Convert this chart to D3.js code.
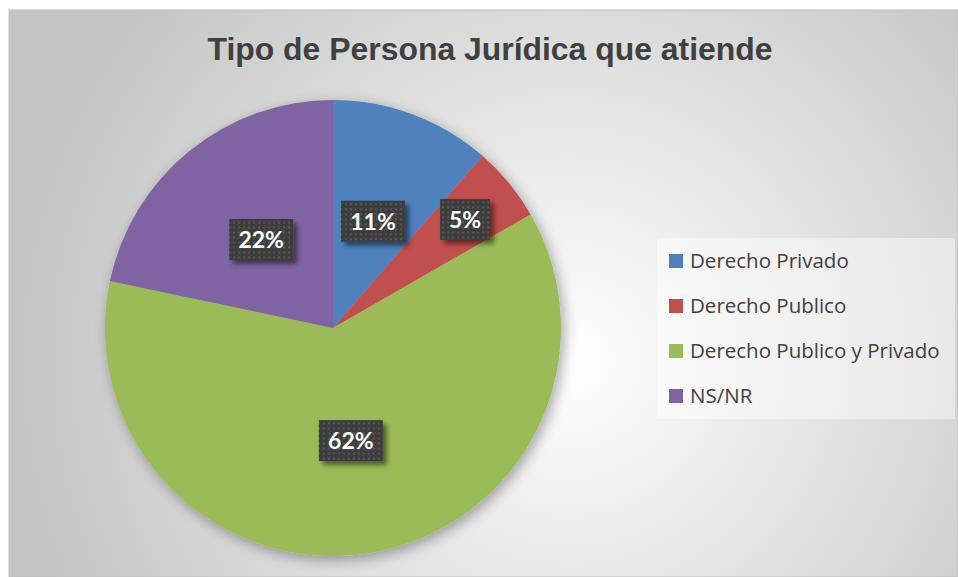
<!DOCTYPE html>
<html><head><meta charset="utf-8">
<script src="https://cdn.jsdelivr.net/npm/d3@7"></script>
<style>html,body{margin:0;padding:0;background:#fff;}svg{display:block;}</style>
</head><body>
<script>
const categories = ["Derecho Privado","Derecho Publico","Derecho Publico y Privado","NS/NR"];
const values = [11.4, 5.3, 61.6, 21.7];
const labels = ["11%","5%","62%","22%"];
const colors = ["#4f81bd","#c0504d","#9bbb59","#8064a2"];
const title = "Tipo de Persona Jurídica que atiende";

const W = 958, H = 577;
const svg = d3.select("body").append("svg").attr("width", W).attr("height", H);
const defs = svg.append("defs");

const rg = defs.append("radialGradient").attr("id","bg")
  .attr("gradientUnits","userSpaceOnUse").attr("cx",570).attr("cy",360).attr("r",560);
rg.append("stop").attr("offset","0%").attr("stop-color","#ffffff");
rg.append("stop").attr("offset","100%").attr("stop-color","#c4c4c4");

const sh = defs.append("filter").attr("id","pieShadow").attr("x","-20%").attr("y","-20%").attr("width","140%").attr("height","140%");
sh.append("feGaussianBlur").attr("in","SourceAlpha").attr("stdDeviation",7).attr("result","b");
sh.append("feOffset").attr("in","b").attr("dx",3).attr("dy",4).attr("result","o");
sh.append("feComponentTransfer").attr("in","o").attr("result","o2")
  .append("feFuncA").attr("type","linear").attr("slope",0.35);
const m = sh.append("feMerge"); m.append("feMergeNode").attr("in","o2"); m.append("feMergeNode").attr("in","SourceGraphic");

const ls = defs.append("filter").attr("id","lblShadow").attr("x","-30%").attr("y","-30%").attr("width","170%").attr("height","170%");
ls.append("feGaussianBlur").attr("in","SourceAlpha").attr("stdDeviation",2.5).attr("result","b");
ls.append("feOffset").attr("in","b").attr("dx",4).attr("dy",4).attr("result","o");
ls.append("feComponentTransfer").attr("in","o").attr("result","o2")
  .append("feFuncA").attr("type","linear").attr("slope",0.5);
const m2 = ls.append("feMerge"); m2.append("feMergeNode").attr("in","o2"); m2.append("feMergeNode").attr("in","SourceGraphic");

const pat = defs.append("pattern").attr("id","dots").attr("patternUnits","userSpaceOnUse")
  .attr("width",5).attr("height",5);
pat.append("rect").attr("width",5).attr("height",5).attr("fill","#3e3e3e");
pat.append("rect").attr("x",2).attr("y",2).attr("width",2).attr("height",2).attr("fill","#575757");

// chart background
svg.append("rect").attr("x",9).attr("y",10).attr("width",W-9).attr("height",H-10)
  .attr("fill","url(#bg)").attr("stroke","#bfbfbf").attr("stroke-width",1);

svg.append("text").attr("x",490).attr("y",60).attr("text-anchor","middle")
  .attr("font-family","Liberation Sans, Arial, sans-serif").attr("font-weight","bold")
  .attr("font-size",31).attr("fill","#404040")
  .attr("textLength",565).attr("lengthAdjust","spacingAndGlyphs").text(title);

const cx = 333, cy = 328, R = 228;
const pie = d3.pie().sort(null).value(d => d)(values);
const arc = d3.arc().innerRadius(0).outerRadius(R);
const g = svg.append("g").attr("transform",`translate(${cx},${cy})`);
g.append("g").attr("filter","url(#pieShadow)").selectAll("path").data(pie).join("path")
  .attr("d",arc).attr("fill",(d,i)=>colors[i]);

const lg = g.append("g");
pie.forEach((d,i)=>{
  const frac = (d.endAngle-d.startAngle)/(2*Math.PI);
  const rr = frac < 0.08 ? R*0.75 : R*0.5;
  const a = (d.startAngle+d.endAngle)/2;
  const x = Math.sin(a)*rr, y = -Math.cos(a)*rr;
  const t = labels[i];
  const bw = t.length > 2 ? 64 : 50, bh = 41;
  const gg = lg.append("g").attr("transform",`translate(${x},${y})`);
  gg.append("rect").attr("x",-bw/2).attr("y",-bh/2).attr("width",bw).attr("height",bh)
    .attr("fill","url(#dots)").attr("filter","url(#lblShadow)");
  gg.append("text").attr("text-anchor","middle").attr("dy","0.36em")
    .attr("font-family","Lato, 'Open Sans', sans-serif").attr("font-weight","bold")
    .attr("font-size",23).attr("fill","#ffffff").text(t);
});

// legend
const legX = 657, legY = 238;
svg.append("rect").attr("x",legX).attr("y",legY).attr("width",298).attr("height",181)
  .attr("fill","#ffffff").attr("fill-opacity",0.45);
const ly = d3.scalePoint().domain(categories).range([261,396]);
const leg = svg.append("g").selectAll("g").data(categories).join("g")
  .attr("transform",d=>`translate(${legX+12},${ly(d)})`);
leg.append("rect").attr("x",0).attr("y",-7).attr("width",14).attr("height",14)
  .attr("fill",(d,i)=>colors[i]);
leg.append("text").attr("x",21).attr("dy","0.35em")
  .attr("font-family","'Open Sans', sans-serif").attr("font-size",20.5)
  .attr("fill","#404040").text(d=>d);
</script>
</body></html>
